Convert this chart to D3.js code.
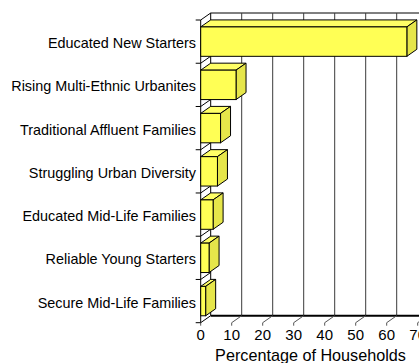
<!DOCTYPE html>
<html>
<head>
<meta charset="utf-8">
<script src="https://cdn.jsdelivr.net/npm/d3@7"></script>
<style>
  html, body { margin: 0; padding: 0; background: #fff; }
  svg { display: block; font-family: "Liberation Sans", Arial, sans-serif; }
</style>
</head>
<body>
<svg id="chart" width="419" height="363"></svg>
<script>
// Household segments, top to bottom
const categories = [
  "Educated New Starters",
  "Rising Multi-Ethnic Urbanites",
  "Traditional Affluent Families",
  "Struggling Urban Diversity",
  "Educated Mid-Life Families",
  "Reliable Young Starters",
  "Secure Mid-Life Families"
];
// Percentage of households in each segment
const values = [66.5, 11.4, 6.4, 5.4, 4.0, 2.7, 1.6];
// Axis tick values
const xTicks = [0, 10, 20, 30, 40, 50, 60, 70];
const xTitle = "Percentage of Households";

const svg = d3.select("#chart");

// 3D depth offset of the plot box
const DX = 10, DY = 7;
const front = { left: 200.7, right: 417.7, top: 20, bottom: 322.7 };

const x = d3.scaleLinear().domain([0, 70]).range([front.left, front.right]);
const y = d3.scaleBand().domain(categories).range([front.top, front.bottom]).padding(0);
const bw = y.bandwidth();

const W = 419;

// Back wall: top edge, left edge, vertical gridlines
const g = svg.append("g");
g.append("line")
  .attr("x1", front.left + DX).attr("x2", W)
  .attr("y1", front.top - DY).attr("y2", front.top - DY)
  .attr("stroke", "#000").attr("stroke-width", 1);
g.selectAll("line.grid")
  .data(xTicks)
  .join("line")
  .attr("class", "grid")
  .attr("x1", d => x(d) + DX).attr("x2", d => x(d) + DX)
  .attr("y1", front.top - DY).attr("y2", front.bottom - DY)
  .attr("stroke", d => d === 0 ? "#000" : "#3a3a3a").attr("stroke-width", 1);

// Floor: back edge (heavy) and diagonal tick lines
g.append("line")
  .attr("x1", front.left + DX).attr("x2", W)
  .attr("y1", front.bottom - DY).attr("y2", front.bottom - DY)
  .attr("stroke", "#000").attr("stroke-width", 2);
g.selectAll("line.floor")
  .data(xTicks)
  .join("line")
  .attr("class", "floor")
  .attr("x1", d => x(d)).attr("x2", d => x(d) + DX)
  .attr("y1", front.bottom).attr("y2", front.bottom - DY)
  .attr("stroke", d => d === 0 ? "#000" : "#555").attr("stroke-width", 1);
g.selectAll("line.xtick")
  .data(xTicks)
  .join("line")
  .attr("class", "xtick")
  .attr("x1", d => x(d)).attr("x2", d => x(d))
  .attr("y1", front.bottom).attr("y2", front.bottom + 3)
  .attr("stroke", "#555").attr("stroke-width", 1);

// Left wall: front edge, category boundary ticks and diagonals
const bounds = categories.map(c => y(c)).concat([front.bottom]);
g.append("line")
  .attr("x1", front.left).attr("x2", front.left)
  .attr("y1", front.top).attr("y2", front.bottom)
  .attr("stroke", "#000").attr("stroke-width", 1);
g.selectAll("line.ytick")
  .data(bounds)
  .join("line")
  .attr("class", "ytick")
  .attr("x1", front.left - 5).attr("x2", front.left)
  .attr("y1", d => d).attr("y2", d => d)
  .attr("stroke", "#000").attr("stroke-width", 1);
g.selectAll("line.ydiag")
  .data(bounds.slice(0, -1))
  .join("line")
  .attr("class", "ydiag")
  .attr("x1", front.left).attr("x2", front.left + DX)
  .attr("y1", d => d).attr("y2", d => d - DY)
  .attr("stroke", "#000").attr("stroke-width", 1);

// 3D bars: top face, side face, front face
const barH = bw * 0.68;
const bars = svg.append("g")
  .selectAll("g.bar")
  .data(categories.map((c, i) => ({ c, v: values[i] })))
  .join("g")
  .attr("class", "bar");

const x0 = x(0);
bars.each(function(d) {
  const sel = d3.select(this);
  const top = y(d.c) + (bw - barH) / 2;
  const bot = top + barH;
  const xr = x(d.v);
  sel.append("path")
    .attr("d", `M${x0},${top}L${x0 + DX},${top - DY}L${xr + DX},${top - DY}L${xr},${top}Z`)
    .attr("fill", "#ffff66").attr("stroke", "#000").attr("stroke-width", 1)
    .attr("stroke-linejoin", "round");
  sel.append("path")
    .attr("d", `M${xr},${top}L${xr + DX},${top - DY}L${xr + DX},${bot - DY}L${xr},${bot}Z`)
    .attr("fill", "#e6e64a").attr("stroke", "#000").attr("stroke-width", 1)
    .attr("stroke-linejoin", "round");
  sel.append("rect")
    .attr("x", x0).attr("y", top)
    .attr("width", xr - x0).attr("height", barH)
    .attr("fill", "#ffff55").attr("stroke", "#000").attr("stroke-width", 1);
});

// Category labels
svg.append("g")
  .selectAll("text")
  .data(categories)
  .join("text")
  .attr("x", 196)
  .attr("y", d => y(d) + bw / 2 + 6.5)
  .attr("text-anchor", "end")
  .attr("font-size", 14.4)
  .attr("fill", "#000")
  .text(d => d);

// X tick labels
svg.append("g")
  .selectAll("text")
  .data(xTicks)
  .join("text")
  .attr("x", d => x(d))
  .attr("y", 339.5)
  .attr("text-anchor", "middle")
  .attr("font-size", 15)
  .attr("fill", "#000")
  .text(d => d);

// Axis title
svg.append("text")
  .attr("x", 310.5)
  .attr("y", 361)
  .attr("text-anchor", "middle")
  .attr("font-size", 16.2)
  .attr("fill", "#000")
  .text(xTitle);
</script>
</body>
</html>
